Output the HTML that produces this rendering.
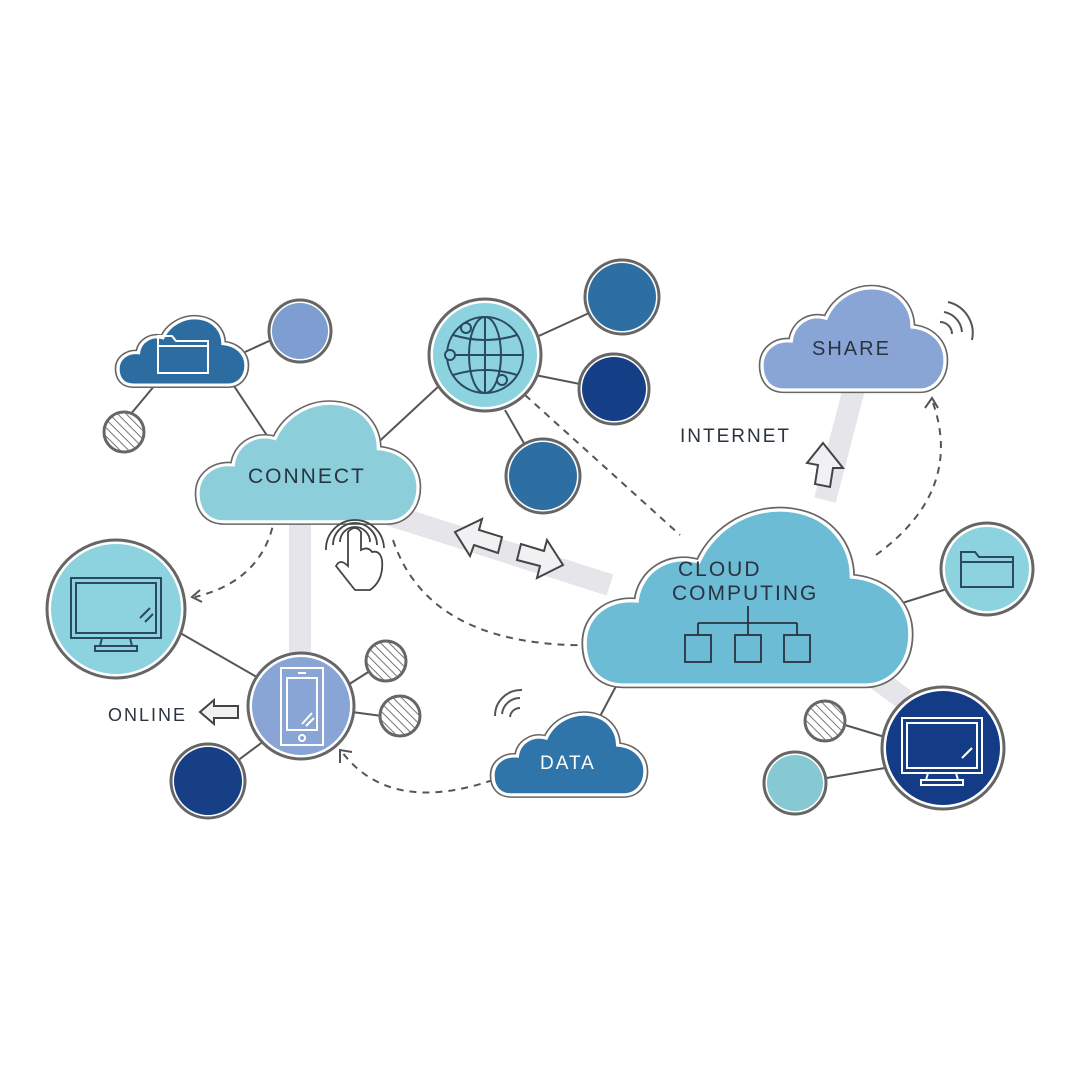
<!DOCTYPE html>
<html><head><meta charset="utf-8"><style>
html,body{margin:0;padding:0;background:#fff;}
svg{display:block}
text{font-family:"Liberation Sans",sans-serif;fill:#2a3340;letter-spacing:2px}
</style></head><body>
<svg width="1080" height="1080" viewBox="0 0 1080 1080" xmlns="http://www.w3.org/2000/svg">
<defs>
<path id="cl" d="M12,60 C4,60 0,54 0,46 C0,37 7,31 16,32 C17,22 26,16 35,19 C40,7 52,0 64,2 C76,4 82,14 82,24 C93,25 100,33 100,43 C100,53 94,60 86,60 Z"/>
<pattern id="hat" width="6" height="6" patternUnits="userSpaceOnUse" patternTransform="rotate(-45)">
<rect width="6" height="6" fill="#fff"/><line x1="0" y1="0" x2="0" y2="6" stroke="#777" stroke-width="2"/>
</pattern>
</defs>
<rect width="1080" height="1080" fill="#fff"/>
<g stroke="#e5e5ea" stroke-width="22" fill="none">
<line x1="300" y1="515" x2="300" y2="660"/>
<line x1="390" y1="515" x2="610" y2="585"/>
<line x1="825" y1="500" x2="855" y2="385"/>
<line x1="865" y1="670" x2="905" y2="700"/>
</g>
<g stroke="#555" stroke-width="2" fill="none">
<line x1="230" y1="380" x2="268" y2="437"/>
<line x1="245" y1="352" x2="280" y2="336"/>
<line x1="155" y1="385" x2="130" y2="415"/>
<line x1="370" y1="450" x2="440" y2="385"/>
<line x1="530" y1="340" x2="600" y2="308"/>
<line x1="535" y1="375" x2="585" y2="385"/>
<line x1="505" y1="410" x2="525" y2="445"/>
<line x1="880" y1="610" x2="950" y2="588"/>
<line x1="630" y1="660" x2="590" y2="735"/>
<line x1="175" y1="630" x2="262" y2="680"/>
<line x1="340" y1="690" x2="373" y2="669"/>
<line x1="352" y1="712" x2="382" y2="716"/>
<line x1="268" y1="738" x2="225" y2="770"/>
<line x1="845" y1="725" x2="888" y2="738"/>
<line x1="815" y1="780" x2="885" y2="768"/>
</g>
<g stroke="#555" stroke-width="2" fill="none" stroke-dasharray="7 6">
<line x1="525" y1="395" x2="680" y2="535"/>
<path d="M275,515 Q265,580 195,597"/>
<path d="M393,540 Q430,650 600,645"/>
<path d="M876,555 Q965,490 932,400"/>
<path d="M493,780 Q390,815 342,752"/>
</g>
<g stroke="#555" stroke-width="2" fill="none">
<path d="M200,590 L192,597 L202,602"/>
<path d="M925,408 L932,398 L938,408"/>
<path d="M340,763 L340,750 L352,752"/>
</g>
<!-- clouds -->
<g>
<use href="#cl" transform="translate(585,505) scale(3.25,3)" fill="#6cbcd5" stroke="#666" stroke-width="2.2"/>
<use href="#cl" transform="translate(585,505) scale(3.25,3)" fill="#6cbcd5" stroke="#fff" stroke-width="1.1"/>
<use href="#cl" transform="translate(198,400) scale(2.2,2.03)" fill="#8ccfdb" stroke="#666" stroke-width="3"/>
<use href="#cl" transform="translate(198,400) scale(2.2,2.03)" fill="#8ccfdb" stroke="#fff" stroke-width="1.5"/>
<use href="#cl" transform="translate(762,285) scale(1.83,1.75)" fill="#89a5d5" stroke="#666" stroke-width="3.6"/>
<use href="#cl" transform="translate(762,285) scale(1.83,1.75)" fill="#89a5d5" stroke="#fff" stroke-width="1.8"/>
<use href="#cl" transform="translate(118,316) scale(1.28,1.15)" fill="#2d6ca0" stroke="#666" stroke-width="5.2"/>
<use href="#cl" transform="translate(118,316) scale(1.28,1.15)" fill="#2d6ca0" stroke="#fff" stroke-width="2.6"/>
<use href="#cl" transform="translate(493,712) scale(1.52,1.38)" fill="#2f75a9" stroke="#666" stroke-width="4.4"/>
<use href="#cl" transform="translate(493,712) scale(1.52,1.38)" fill="#2f75a9" stroke="#fff" stroke-width="2.2"/>
</g>
<g stroke-width="3">
<g stroke="#666">
<circle cx="485" cy="355" r="56" fill="#fff"/><circle cx="485" cy="355" r="52" fill="#8dd3df" stroke="none"/>
<circle cx="300" cy="331" r="31" fill="#fff"/><circle cx="300" cy="331" r="28" fill="#7e9dd0" stroke="none"/>
<circle cx="622" cy="297" r="37" fill="#fff"/><circle cx="622" cy="297" r="34" fill="#2e6fa3" stroke="none"/>
<circle cx="614" cy="389" r="35" fill="#fff"/><circle cx="614" cy="389" r="32" fill="#143f87" stroke="none"/>
<circle cx="543" cy="476" r="37" fill="#fff"/><circle cx="543" cy="476" r="34" fill="#2e6fa3" stroke="none"/>
<circle cx="116" cy="609" r="69" fill="#fff"/><circle cx="116" cy="609" r="65" fill="#8dd3df" stroke="none"/>
<circle cx="301" cy="706" r="53" fill="#fff"/><circle cx="301" cy="706" r="49" fill="#89a5d5" stroke="none"/>
<circle cx="208" cy="781" r="37" fill="#fff"/><circle cx="208" cy="781" r="34" fill="#163f85" stroke="none"/>
<circle cx="987" cy="569" r="46" fill="#fff"/><circle cx="987" cy="569" r="42" fill="#8dd3df" stroke="none"/>
<circle cx="943" cy="748" r="61" fill="#fff"/><circle cx="943" cy="748" r="57" fill="#143c86" stroke="none"/>
<circle cx="795" cy="783" r="31" fill="#fff"/><circle cx="795" cy="783" r="28" fill="#86c9d3" stroke="none"/>
<circle cx="124" cy="432" r="20" fill="url(#hat)"/>
<circle cx="386" cy="661" r="20" fill="url(#hat)"/>
<circle cx="400" cy="716" r="20" fill="url(#hat)"/>
<circle cx="825" cy="721" r="20" fill="url(#hat)"/>
</g>
</g>
<g stroke="#2a4a60" stroke-width="2" fill="none">
<circle cx="485" cy="355" r="38"/>
<ellipse cx="485" cy="355" rx="16" ry="38"/>
<line x1="485" y1="317" x2="485" y2="393"/>
<line x1="447" y1="355" x2="523" y2="355"/>
<path d="M453,335 Q485,345 517,335"/><path d="M453,375 Q485,365 517,375"/>
<circle cx="466" cy="328" r="5" fill="#8dd3df"/><circle cx="450" cy="355" r="5" fill="#8dd3df"/><circle cx="502" cy="380" r="5" fill="#8dd3df"/>
</g>
<g stroke="#fff" stroke-width="2" fill="none">
<path d="M158,373 V336 H172 L176,341 H208 V373 Z"/><line x1="158" y1="346" x2="208" y2="346"/>
</g>
<g stroke="#2a4a60" stroke-width="2" fill="none">
<path d="M961,587 V552 H975 L979,557 H1013 V587 Z"/><line x1="961" y1="562" x2="1013" y2="562"/>
</g>
<g stroke="#2a4a60" stroke-width="2" fill="none">
<rect x="71" y="578" width="90" height="60"/><rect x="76" y="583" width="80" height="50"/>
<line x1="102" y1="638" x2="100" y2="646"/><line x1="130" y1="638" x2="132" y2="646"/>
<rect x="95" y="646" width="42" height="5"/>
<line x1="140" y1="618" x2="150" y2="608"/><line x1="145" y1="622" x2="153" y2="614"/>
</g>
<g stroke="#fff" stroke-width="2" fill="none">
<rect x="902" y="718" width="80" height="55"/><rect x="907" y="723" width="70" height="45"/>
<line x1="928" y1="773" x2="926" y2="780"/><line x1="956" y1="773" x2="958" y2="780"/>
<rect x="921" y="780" width="42" height="5"/>
<line x1="962" y1="758" x2="972" y2="748"/>
</g>
<g stroke="#fff" stroke-width="2" fill="none">
<rect x="281" y="668" width="42" height="77"/><rect x="287" y="678" width="30" height="52"/>
<line x1="298" y1="673" x2="306" y2="673"/><circle cx="302" cy="738" r="3"/>
<line x1="302" y1="724" x2="312" y2="713"/><line x1="306" y1="726" x2="314" y2="718"/>
</g>
<g stroke="#2a3340" stroke-width="1.8" fill="none">
<line x1="748" y1="606" x2="748" y2="623"/>
<line x1="698" y1="623" x2="797" y2="623"/>
<line x1="698" y1="623" x2="698" y2="635"/><line x1="748" y1="623" x2="748" y2="635"/><line x1="797" y1="623" x2="797" y2="635"/>
<rect x="685" y="635" width="26" height="27"/><rect x="735" y="635" width="26" height="27"/><rect x="784" y="635" width="26" height="27"/>
</g>
<g stroke="#444" stroke-width="1.8" fill="none">
<path d="M326,550 A28,28 0 1 1 384,548"/>
<path d="M333,545 A21,21 0 1 1 377,545"/>
<path d="M340,542 A15,15 0 1 1 370,542"/>
<path d="M348,560 V532 Q355,524 361,532 V550 Q368,546 372,552 Q380,550 382,560 Q384,580 370,590 H355 L336,566 Q340,558 348,566 Z" fill="#fff"/>
</g>
<g stroke="#444" stroke-width="2" fill="#f1f1f4">
<path d="M455,532 L482,519 L479,530 L502,537 L498,553 L474,545 L470,556 Z"/>
<path d="M563,565 L537,578 L540,566 L517,560 L521,544 L544,551 L547,540 Z"/>
<path d="M823,443 L843,468 L833,468 L830,487 L815,484 L818,465 L807,463 Z"/>
<path d="M200,712 L214,700 L214,706 L238,706 L238,718 L214,718 L214,724 Z"/>
</g>
<g stroke="#555" stroke-width="2" fill="none">
<path d="M940,322 A12,12 0 0 1 952,334"/><path d="M944,312 A22,22 0 0 1 962,332"/><path d="M948,302 A32,32 0 0 1 972,340"/>
<path d="M510,717 A10,10 0 0 1 520,708"/><path d="M502,714 A18,18 0 0 1 520,698"/><path d="M495,716 A26,26 0 0 1 522,690"/>
</g>
<text x="248" y="483" font-size="21">CONNECT</text>
<text font-size="21"><tspan x="678" y="576">CLOUD</tspan><tspan x="672" y="600">COMPUTING</tspan></text>
<text x="812" y="355" font-size="20">SHARE</text>
<text x="680" y="442" font-size="19">INTERNET</text>
<text x="108" y="721" font-size="18">ONLINE</text>
<text x="540" y="769" font-size="19" style="fill:#fff">DATA</text>
</svg>
</body></html>
